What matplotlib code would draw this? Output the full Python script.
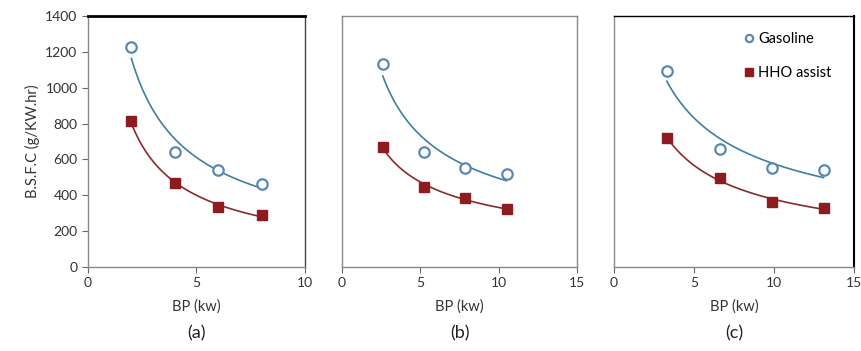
import matplotlib
matplotlib.use("Agg")
import matplotlib.pyplot as plt
import numpy as np

plt.rcParams["font.family"] = ["Lato", "DejaVu Sans"]

GAS_COLOR = "#5b88b2"
GAS_LINE = "#3f7f9f"
HHO_COLOR = "#8e1b1f"
HHO_LINE = "#8a2a2a"

bp_a = [2.0, 4.0, 6.0, 8.0]
gas_a = [1228, 640, 540, 463]
hho_a = [812, 470, 332, 292]

bp_b = [2.6, 5.25, 7.85, 10.5]
gas_b = [1130, 642, 552, 519]
hho_b = [670, 448, 385, 323]

bp_c = [3.3, 6.6, 9.9, 13.1]
gas_c = [1093, 658, 552, 541]
hho_c = [720, 496, 363, 329]

panels = [
    ("(a)", bp_a, gas_a, hho_a, 10, [0, 5, 10], [0.1021, 0.2393, 0.2517, 0.715]),
    ("(b)", bp_b, gas_b, hho_b, 15, [0, 5, 10, 15], [0.3968, 0.2393, 0.2726, 0.715]),
    ("(c)", bp_c, gas_c, hho_c, 15, [0, 5, 10, 15], [0.7123, 0.2393, 0.2784, 0.715]),
]


def power_fit(x, y):
    b, ln_a = np.polyfit(np.log(x), np.log(y), 1)
    xs = np.linspace(min(x), max(x), 100)
    return xs, np.exp(ln_a) * xs ** b


fig = plt.figure(figsize=(8.62, 3.51), dpi=100)
for i, (tag, bp, gas, hho, xmax, xt, rect) in enumerate(panels):
    ax = fig.add_axes(rect)
    xs, ys = power_fit(bp, gas)
    ax.plot(xs, ys, color=GAS_LINE, lw=1.2)
    xs, ys = power_fit(bp, hho)
    ax.plot(xs, ys, color=HHO_LINE, lw=1.2)
    ax.plot(bp, gas, "o", ms=7.5, mfc="white", mec=GAS_COLOR, mew=1.6, label="Gasoline", ls="none")
    ax.plot(bp, hho, "s", ms=7.5, color=HHO_COLOR, label="HHO assist", ls="none")
    ax.set_xlim(0, xmax)
    ax.set_ylim(0, 1400)
    ax.set_xticks(xt)
    ax.tick_params(axis="x", direction="out", length=4, colors="#666666", labelcolor="#333333", labelsize=10)
    for s in ax.spines.values():
        s.set_color("#888888")
        s.set_linewidth(1.0)
    if i == 0:
        ax.set_yticks(range(0, 1401, 200))
        ax.tick_params(axis="y", direction="out", length=4, colors="#666666", labelcolor="#333333", labelsize=10)
        ax.set_ylabel("B.S.F.C (g/KW.hr)", fontsize=10.5, color="#333333")
        ax.spines["top"].set_color("black")
        ax.spines["top"].set_linewidth(2)
        ax.spines["right"].set_color("#444444")
    else:
        ax.set_yticks([])
    if i == 2:
        ax.spines["top"].set_color("black")
        ax.spines["right"].set_color("black")
        ax.spines["right"].set_linewidth(1.5)
        ax.legend(loc="upper right", bbox_to_anchor=(0.96, 0.99), frameon=False, fontsize=10.5,
                  handlelength=0.6, handletextpad=0.3, labelspacing=1.4, markerscale=0.7)
    ax.set_xlabel("BP (kw)", fontsize=10.5, color="#333333", labelpad=7)
    ax.text(0.5, -0.265, tag, transform=ax.transAxes, ha="center", va="center",
            fontsize=13, color="#222222")

fig.savefig("out.png", dpi=100, facecolor="white")
